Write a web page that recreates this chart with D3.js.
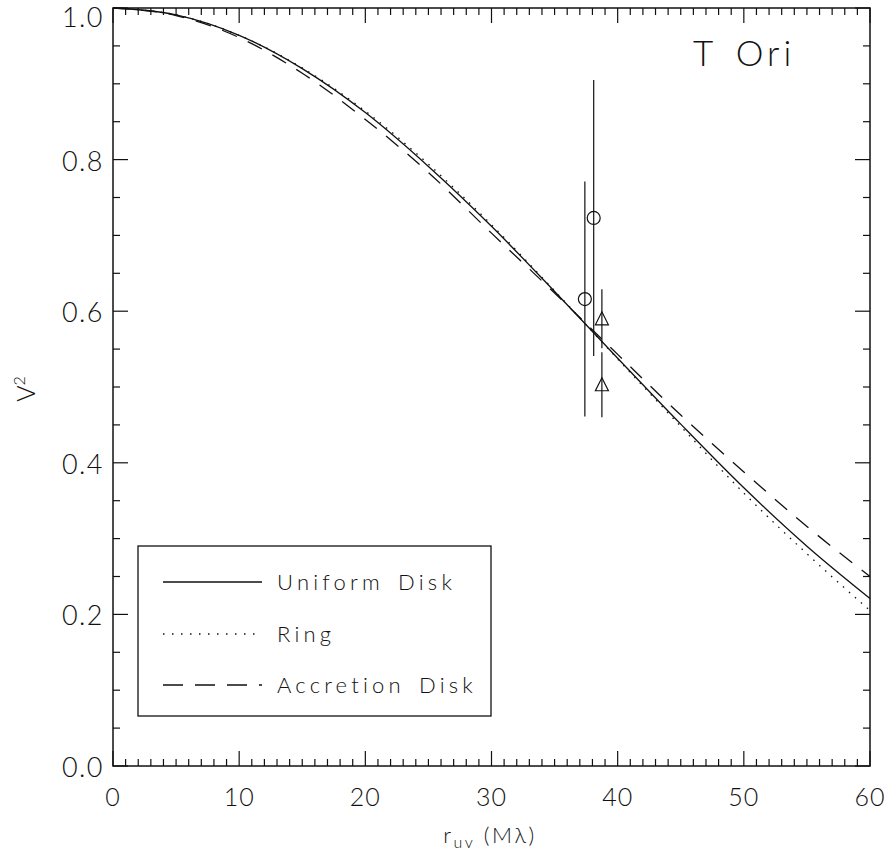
<!DOCTYPE html>
<html><head><meta charset="utf-8">
<script src="https://cdn.jsdelivr.net/npm/d3@7"></script>
<style>body{margin:0;background:#fff}svg{display:block}text{font-family:Lato,"DejaVu Sans",sans-serif;font-weight:300;fill:#111}</style>
</head><body><svg id="c" width="891" height="855"></svg>
<script>
const rValues = [0,5,10,15,20,25,30,35,40,45,50,55,60];
const uniformDisk = [1.0,0.991,0.964,0.920,0.862,0.791,0.712,0.626,0.538,0.451,0.367,0.290,0.221];
const ringModel   = [1.0,0.991,0.964,0.921,0.864,0.794,0.714,0.627,0.537,0.448,0.360,0.280,0.205];
const accretionDisk=[1.0,0.990,0.961,0.914,0.853,0.783,0.703,0.624,0.543,0.463,0.388,0.316,0.250];
const circlePts = [{r:37.4,v:0.616,e:0.155},{r:38.1,v:0.723,e:0.182}];
const trianglePts = [{r:38.75,v:0.590,e:0.039},{r:38.75,v:0.503,e:0.043}];
const xTicks = [0,10,20,30,40,50,60];
const yTicks = [0.0,0.2,0.4,0.6,0.8,1.0];
const legendLabels = ["Uniform Disk","Ring","Accretion Disk"];

const svg = d3.select("#c");
const L=113,R=870,T=8,B=766;
const x = d3.scaleLinear().domain([0,60]).range([L,R]);
const y = d3.scaleLinear().domain([0,1]).range([B,T]);
const col="#111";

// frame
svg.append("rect").attr("x",L).attr("y",T).attr("width",R-L).attr("height",B-T)
  .attr("fill","none").attr("stroke",col).attr("stroke-width",1.5);

// ticks
const xMinor = d3.range(0,61,1), yMinor = d3.range(0,1.0001,0.05);
const g = svg.append("g").attr("stroke",col).attr("stroke-width",1.2);
xMinor.forEach(v=>{
  const len = (v%10===0)?15:7;
  g.append("line").attr("x1",x(v)).attr("x2",x(v)).attr("y1",B).attr("y2",B-len);
  g.append("line").attr("x1",x(v)).attr("x2",x(v)).attr("y1",T).attr("y2",T+len);
});
yMinor.forEach(v=>{
  const major = Math.abs(v*5-Math.round(v*5))<1e-6;
  const len = major?15:7;
  g.append("line").attr("y1",y(v)).attr("y2",y(v)).attr("x1",L).attr("x2",L+len);
  g.append("line").attr("y1",y(v)).attr("y2",y(v)).attr("x1",R).attr("x2",R-len);
});

// tick labels
svg.append("g").selectAll("text").data(xTicks).join("text")
  .attr("x",d=>x(d)).attr("y",806).attr("text-anchor","middle").attr("font-size",25)
  .attr("letter-spacing",1).text(d=>d);
svg.append("g").selectAll("text").data(yTicks).join("text")
  .attr("x",104).attr("y",d=>Math.max(y(d)+11,27)).attr("text-anchor","end").attr("font-size",27)
  .attr("letter-spacing",1.5).text(d=>d.toFixed(1));

// axis titles
const xt = svg.append("text").attr("x",490).attr("y",843).attr("text-anchor","middle").attr("font-size",22).attr("letter-spacing",2.5);
xt.append("tspan").text("r");
xt.append("tspan").attr("font-size",16).attr("dy",5).text("uv");
xt.append("tspan").attr("dy",-5).text(" (Mλ)");
const yt = svg.append("text").attr("transform","translate(35,389) rotate(-90)").attr("text-anchor","middle").attr("font-size",25);
yt.append("tspan").text("V");
yt.append("tspan").attr("font-size",16).attr("dy",-10).text("2");

svg.append("text").attr("x",693).attr("y",66).attr("font-size",35).attr("letter-spacing",4)
  .attr("word-spacing",6).text("T Ori");

// curves
const line = d3.line().x(d=>x(d[0])).y(d=>y(d[1])).curve(d3.curveMonotoneX);
const series = [
  {vals:uniformDisk, dash:null, ldash:null},
  {vals:ringModel, dash:"1.5,6.5", ldash:"1.5,7.5"},
  {vals:accretionDisk, dash:"16,12", ldash:"20,12"}
];
series.forEach(s=>{
  svg.append("path").datum(rValues.map((r,i)=>[r,s.vals[i]])).attr("d",line)
    .attr("fill","none").attr("stroke",col).attr("stroke-width",1.3)
    .attr("stroke-dasharray",s.dash);
});

// data points
const pts = svg.append("g").attr("stroke",col).attr("fill","none").attr("stroke-width",1.2);
circlePts.forEach(p=>{
  pts.append("line").attr("x1",x(p.r)).attr("x2",x(p.r)).attr("y1",y(p.v-p.e)).attr("y2",y(p.v+p.e));
  pts.append("circle").attr("cx",x(p.r)).attr("cy",y(p.v)).attr("r",6.5).attr("fill","none");
});
trianglePts.forEach(p=>{
  pts.append("line").attr("x1",x(p.r)).attr("x2",x(p.r)).attr("y1",y(p.v-p.e)).attr("y2",y(p.v+p.e));
  const cx=x(p.r), cy=y(p.v);
  pts.append("path").attr("d",`M${cx-6.5},${cy+6}L${cx+6.5},${cy+6}L${cx},${cy-7}Z`);
});

// legend
const lx=138, ly=546, lw=353, lh=170;
svg.append("rect").attr("x",lx).attr("y",ly).attr("width",lw).attr("height",lh)
  .attr("fill","#fff").attr("stroke",col).attr("stroke-width",1.3);
const rowsY=[582,634,685];
legendLabels.forEach((lab,i)=>{
  svg.append("line").attr("x1",163).attr("x2",262).attr("y1",rowsY[i]).attr("y2",rowsY[i])
    .attr("stroke",col).attr("stroke-width",1.3).attr("stroke-dasharray",series[i].ldash);
  svg.append("text").attr("x",277).attr("y",rowsY[i]+8).attr("font-size",22)
    .attr("letter-spacing",4.2).attr("word-spacing",4).text(lab);
});
</script></body></html>
